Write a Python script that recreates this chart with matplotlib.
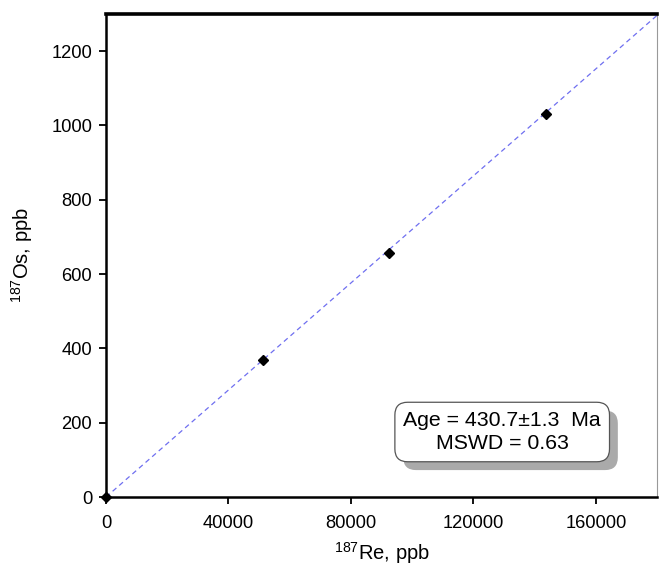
import matplotlib
matplotlib.use('Agg')
import matplotlib.pyplot as plt
from matplotlib.patches import Shadow
import numpy as np

plt.rcParams['font.family'] = ['Liberation Sans', 'DejaVu Sans']
plt.rcParams['mathtext.default'] = 'regular'

# Re-Os isochron data (ppb)
re187 = [0, 51300, 92500, 143600]
os187 = [0, 369, 657, 1032]
age_ma = 430.7
decay_const = 1.666e-11  # 187Re, per year

fig = plt.figure(figsize=(6.59, 5.69), dpi=100)
ax = fig.add_axes([0.1609, 0.1265, 0.8361, 0.8489])

# isochron line from the age
slope = np.exp(decay_const * age_ma * 1e6) - 1
xl = np.array([0, 180000])
ax.plot(xl, slope * xl, color='#6f6ff0', lw=0.9, ls=(0, (4, 3)))

ax.plot(re187, os187, 'D', color='black', ms=5, clip_on=False, zorder=5)

ax.set_xlim(0, 180000)
ax.set_ylim(0, 1300)
ax.set_xticks([0, 40000, 80000, 120000, 160000])
ax.set_yticks([0, 200, 400, 600, 800, 1000, 1200])
ax.tick_params(direction='out', length=5, width=1.3, labelsize=13.2, pad=5)
ax.tick_params(axis='x', pad=8)

for s in ['left', 'bottom']:
    ax.spines[s].set_linewidth(1.8)
ax.spines['top'].set_linewidth(2.6)
ax.spines['right'].set_linewidth(0.8)
ax.spines['right'].set_color('#999999')

ax.set_xlabel('$^{187}$Re, ppb', fontsize=14.5, labelpad=6)
ax.set_ylabel('$^{187}$Os, ppb', fontsize=14.5, labelpad=12)

label = 'Age = 430.7\u00b11.3  Ma\nMSWD = 0.63'
txt = ax.text(0.719, 0.1346, label, transform=ax.transAxes, ha='center', va='center',
              fontsize=15.3, color='black', linespacing=1.3, zorder=10,
              bbox=dict(boxstyle='round,pad=0.4,rounding_size=0.6',
                        fc='white', ec='#555555', lw=0.9))
fig.canvas.draw()
shadow = Shadow(txt.get_bbox_patch(), 6, -6, facecolor='#aaaaaa', edgecolor='none', alpha=1)
shadow.set_zorder(9)
ax.add_artist(shadow)

fig.savefig('out.png', dpi=100)
